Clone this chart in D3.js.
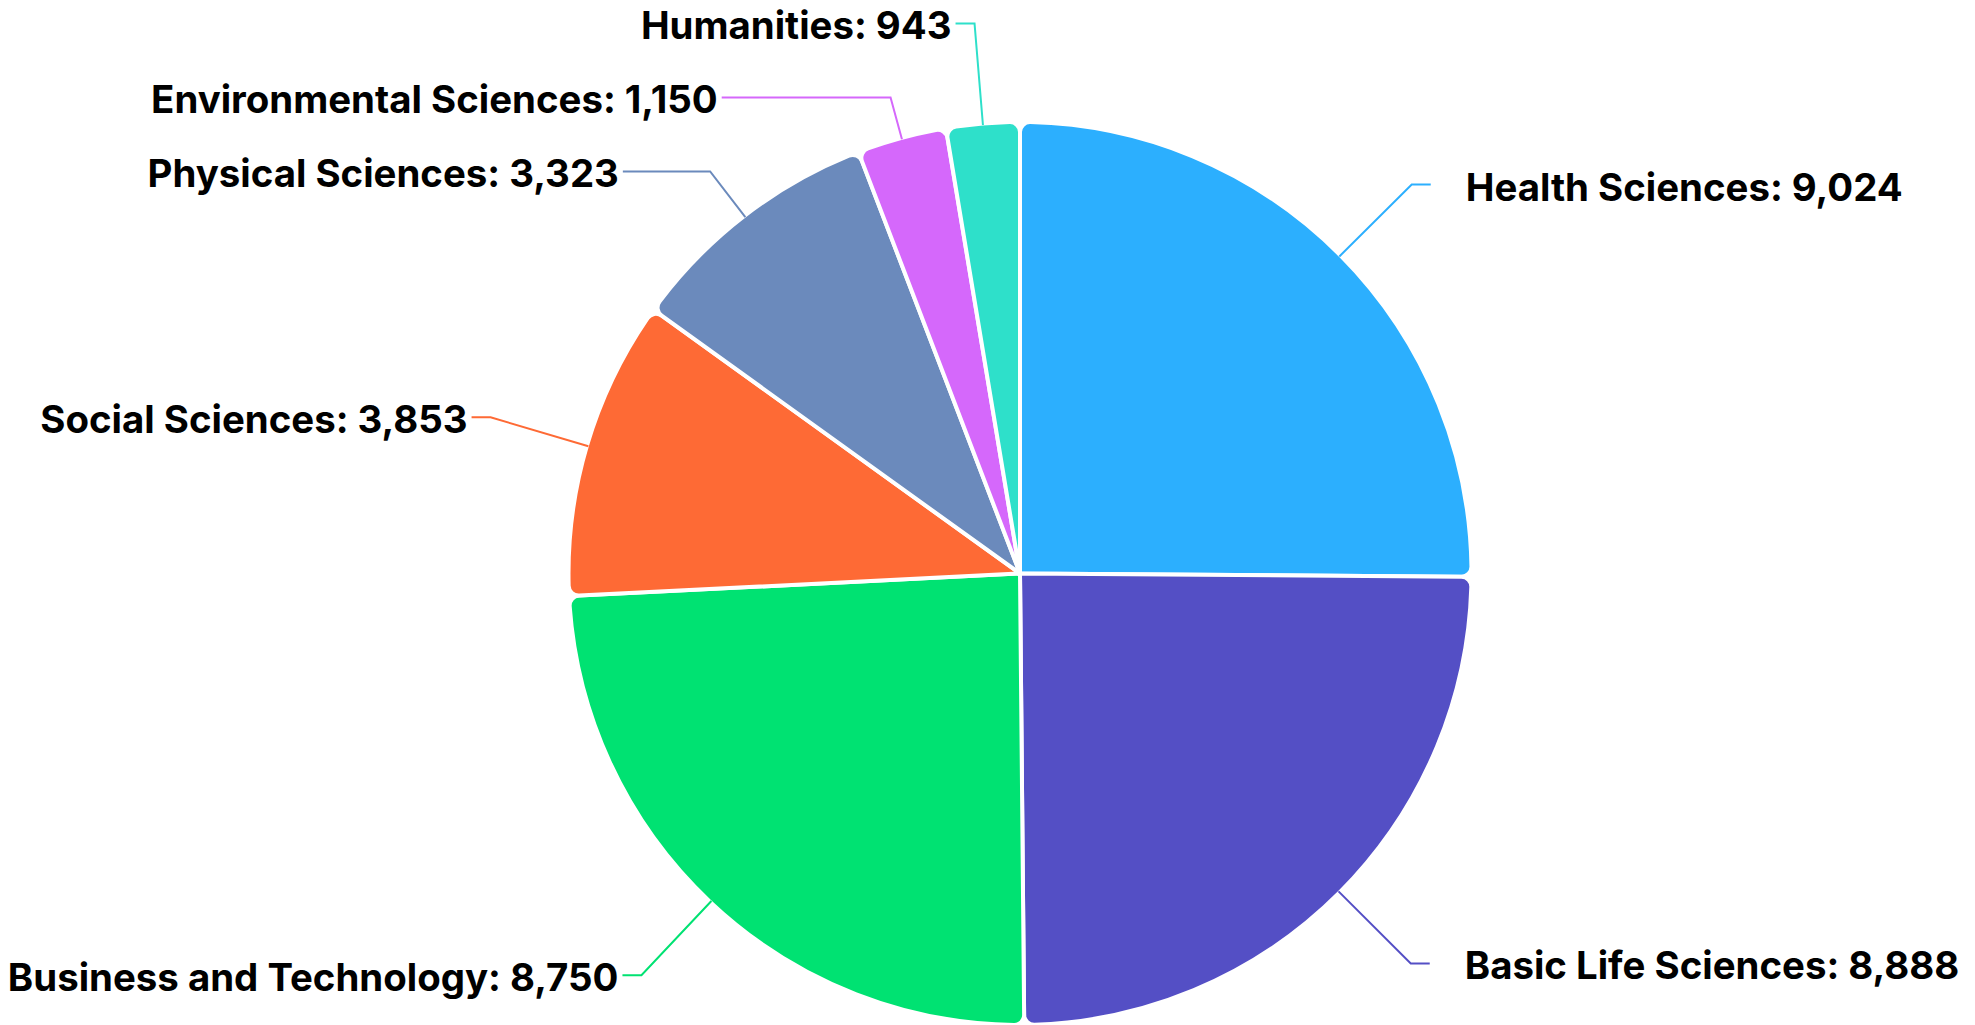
<!DOCTYPE html>
<html>
<head>
<meta charset="utf-8">
<script src="https://cdn.jsdelivr.net/npm/d3@7/dist/d3.min.js"></script>
<style>
  html, body { margin: 0; padding: 0; background: #ffffff; }
  svg { display: block; }
</style>
</head>
<body>
<svg id="chart" width="1975" height="1025"></svg>
<script>
const categories = ["Health Sciences", "Basic Life Sciences", "Business and Technology", "Social Sciences", "Physical Sciences", "Environmental Sciences", "Humanities"];
const values = [9024, 8888, 8750, 3853, 3323, 1150, 943];
const colors = ["#2caffe", "#544fc5", "#00e272", "#fe6a35", "#6b8abc", "#d568fb", "#2ee0ca"];

const W = 1975, H = 1025;
const cx = 1020, cy = 573.5, R = 451.5;
const labelR = 552, minGap = 74, hook = 19;
const fmt = d3.format(",");

const data = categories.map((c, i) => ({ name: c, value: values[i], color: colors[i] }));
const svg = d3.select("#chart");
const g = svg.append("g").attr("transform", `translate(${cx},${cy})`);

const pie = d3.pie().sort(null).value(d => d.value);
const arcs = pie(data);
const arc = d3.arc().innerRadius(0).outerRadius(R).cornerRadius(10);

g.selectAll("path.slice").data(arcs).join("path")
  .attr("class", "slice")
  .attr("d", arc)
  .attr("fill", d => d.data.color)
  .attr("stroke", "#ffffff")
  .attr("stroke-width", 4)
  .attr("stroke-linejoin", "round");

// label layout
const labels = arcs.map(a => {
  const m = (a.startAngle + a.endAngle) / 2;
  const s = Math.sin(m), c = Math.cos(m);
  return { a, m, s, c, right: s > 0, y: -labelR * c, edge: [ (R - 1.5) * s, -(R - 1.5) * c ] };
});
["left", "right"].forEach(side => {
  const grp = labels.filter(l => (side === "right") === l.right).sort((p, q) => p.y - q.y);
  for (let i = 1; i < grp.length; i++) {
    if (grp[i].y < grp[i - 1].y + minGap) grp[i].y = grp[i - 1].y + minGap;
  }
});
labels.forEach(l => {
  const t = -l.y / l.c;
  l.bx = t * l.s;
  const gx = Math.sqrt(Math.max(0, labelR * labelR - l.y * l.y)) * (l.right ? 1 : -1);
  l.ex = gx + (l.right ? hook : -hook);
  l.tx = l.right ? l.ex + 35 : l.ex - 4;
});

g.selectAll("path.conn").data(labels).join("path")
  .attr("class", "conn")
  .attr("d", l => `M${l.edge[0]},${l.edge[1]}L${l.bx},${l.y}L${l.ex},${l.y}`)
  .attr("fill", "none")
  .attr("stroke", l => l.a.data.color)
  .attr("stroke-width", 2);

g.selectAll("text.lbl").data(labels).join("text")
  .attr("class", "lbl")
  .attr("x", l => l.tx)
  .attr("y", l => l.y + 2)
  .attr("text-anchor", l => l.right ? "start" : "end")
  .attr("dominant-baseline", "central")
  .attr("font-family", "Inter, 'Noto Sans', sans-serif")
  .attr("font-weight", 700)
  .attr("font-size", 38.4)
  .attr("fill", "#000000")
  .text(l => `${l.a.data.name}: ${fmt(l.a.data.value)}`);
</script>
</body>
</html>
